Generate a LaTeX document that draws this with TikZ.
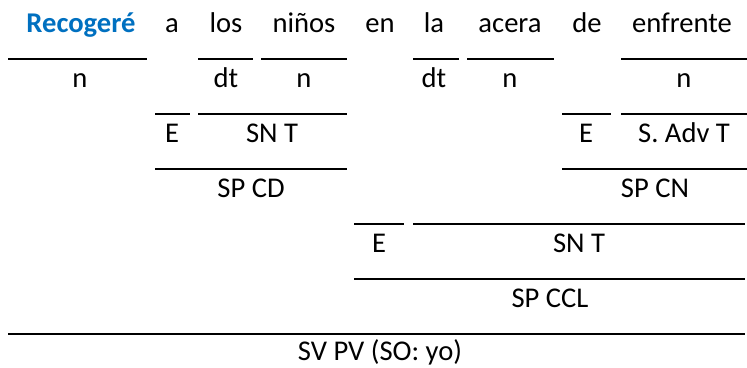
\documentclass[tikz,border=0pt]{standalone}
\usepackage{fontspec}
\setmainfont{Carlito}
\definecolor{wordblue}{HTML}{0070C0}
\begin{document}
\begin{tikzpicture}[x=1bp, y=-1bp,
    word/.style={anchor=base, inner sep=0pt, font=\fontsize{28.7}{34}\selectfont},
    bar/.style={line width=2bp}]
    \useasboundingbox (0,0) rectangle (747,367);

    % Sentence
    \node[word, text=wordblue, font=\fontsize{28.7}{34}\selectfont\bfseries] (recogere) at (81,32) {Recogeré};
    \node[word] (a) at (172,32) {a};
    \node[word] (los) at (226,32) {los};
    \node[word] (ninos) at (304,32) {niños};
    \node[word] (en) at (380,32) {en};
    \node[word] (la) at (434,32) {la};
    \node[word] (acera) at (510,32) {acera};
    \node[word] (de) at (587,32) {de};
    \node[word] (enfrente) at (682,32) {enfrente};

    % Word classes
    \draw[bar] (8,59) -- (147,59);
    \draw[bar] (198,59) -- (253,59);
    \draw[bar] (261,59) -- (347,59);
    \draw[bar] (413,59) -- (459,59);
    \draw[bar] (467,59) -- (554,59);
    \draw[bar] (621,59) -- (748,59);
    \node[word] (n1) at (80,87) {n};
    \node[word] (dt1) at (226,87) {dt};
    \node[word] (n2) at (304,87) {n};
    \node[word] (dt2) at (434,87) {dt};
    \node[word] (n3) at (510,87) {n};
    \node[word] (n4) at (684,87) {n};

    % Inner phrases
    \draw[bar] (155,114) -- (190,114);
    \draw[bar] (198,114) -- (347,114);
    \draw[bar] (562,114) -- (611,114);
    \draw[bar] (621,114) -- (748,114);
    \node[word] (e1) at (172,142) {E};
    \node[word] (snt1) at (272,142) {SN T};
    \node[word] (e2) at (586,142) {E};
    \node[word] (sadvt) at (684,142) {S. Adv T};

    \draw[bar] (155,169) -- (347,169);
    \draw[bar] (562,169) -- (748,169);
    \node[word] (spcd) at (251,197) {SP CD};
    \node[word] (spcn) at (655,197) {SP CN};

    % Complement of place
    \draw[bar] (354,224) -- (404,224);
    \draw[bar] (413,224) -- (745,224);
    \node[word] (e3) at (379,252) {E};
    \node[word] (snt2) at (579,252) {SN T};

    \draw[bar] (354,279) -- (745,279);
    \node[word] (spccl) at (550,307) {SP CCL};

    % Predicate
    \draw[bar] (8,334) -- (745,334);
    \node[word] (svpv) at (380,360) {SV PV (SO: yo)};
\end{tikzpicture}
\end{document}
